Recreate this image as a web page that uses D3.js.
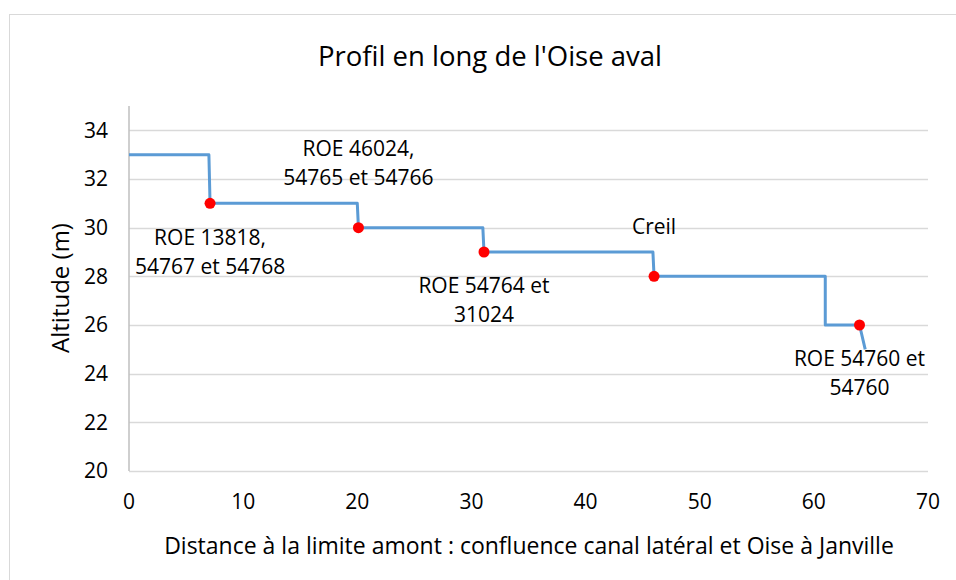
<!DOCTYPE html>
<html>
<head>
<meta charset="utf-8">
<script src="https://cdn.jsdelivr.net/npm/d3@7"></script>
<style>
  body { margin: 0; background: #fff; }
  svg { display: block; font-family: "Open Sans", sans-serif; }
</style>
</head>
<body>
<svg id="svg" width="956" height="580"></svg>
<script>
// profile of the river (distance km, altitude m)
let profileDist = [0, 7, 7.1, 20, 20.1, 31, 31.1, 45.9, 46, 61, 61, 64, 64.5];
let profileAlt  = [33, 33, 31, 31, 30, 30, 29, 29, 28, 28, 26, 26, 25];

// dams / weirs
let damDist = [7.1, 20.1, 31.1, 46, 64];
let damAlt  = [31, 30, 29, 28, 26];
let damLabels = [
    ["ROE 13818,", "54767 et 54768"],
    ["ROE 46024,", "54765 et 54766"],
    ["ROE 54764 et", "31024"],
    ["Creil"],
    ["ROE 54760 et", "54760"]
];
// label below (1) or above (-1) the point
let damLabelSide = [1, -1, 1, -1, 1];

let xTicks = [0, 10, 20, 30, 40, 50, 60, 70];
let yTicks = [20, 22, 24, 26, 28, 30, 32, 34];

let svg = d3.select("#svg");

// outer frame
svg.append("rect")
    .attr("x", 9.5).attr("y", 14.5)
    .attr("width", 1000).attr("height", 1000)
    .attr("fill", "none")
    .attr("stroke", "#d9d9d9");

const plotLeft = 129, plotRight = 928, plotTop = 106, plotBottom = 471;

let xScale = d3.scaleLinear().domain([0, 70]).range([plotLeft, plotRight]);
let yScale = d3.scaleLinear().domain([20, 35]).range([plotBottom, plotTop]);

// gridlines
svg.append("g")
    .selectAll("line")
    .data(yTicks)
    .join("line")
    .attr("x1", plotLeft).attr("x2", plotRight)
    .attr("y1", d => Math.round(yScale(d)) + 0.5)
    .attr("y2", d => Math.round(yScale(d)) + 0.5)
    .attr("stroke", "#d9d9d9")
    .attr("stroke-width", 1.5);

// y axis line
svg.append("line")
    .attr("x1", plotLeft).attr("x2", plotLeft)
    .attr("y1", plotTop).attr("y2", plotBottom)
    .attr("stroke", "#bfbfbf")
    .attr("stroke-width", 1.5);

// tick labels
svg.append("g")
    .selectAll("text")
    .data(yTicks)
    .join("text")
    .attr("x", 108)
    .attr("y", d => yScale(d))
    .attr("dy", "0.35em")
    .attr("text-anchor", "end")
    .style("font-size", "21px")
    .style("fill", "#000")
    .text(d => d);

svg.append("g")
    .selectAll("text")
    .data(xTicks)
    .join("text")
    .attr("x", d => xScale(d))
    .attr("y", 502)
    .attr("dy", "0.35em")
    .attr("text-anchor", "middle")
    .style("font-size", "21px")
    .style("fill", "#000")
    .text(d => d);

// profile line
let profile = profileDist.map((d, i) => [d, profileAlt[i]]);
svg.append("path")
    .datum(profile)
    .attr("fill", "none")
    .attr("stroke", "#5b9bd5")
    .attr("stroke-width", 3)
    .attr("stroke-linejoin", "round")
    .attr("d", d3.line().x(d => xScale(d[0])).y(d => yScale(d[1])));

// dam points
svg.append("g")
    .selectAll("circle")
    .data(damDist)
    .join("circle")
    .attr("cx", d => xScale(d))
    .attr("cy", (d, i) => yScale(damAlt[i]))
    .attr("r", 5.5)
    .attr("fill", "#ff0000");

// dam labels
const lineGap = 29;
damDist.forEach((d, i) => {
    let lines = damLabels[i];
    let cx = xScale(d);
    let cy = yScale(damAlt[i]);
    let startY = damLabelSide[i] > 0 ? cy + 34 : cy - 50 - lineGap * (lines.length - 1);
    let t = svg.append("text")
        .attr("text-anchor", "middle")
        .style("font-size", "21px")
        .style("fill", "#000");
    lines.forEach((l, j) => {
        t.append("tspan")
            .attr("x", cx)
            .attr("y", startY + j * lineGap)
            .attr("dy", "0.35em")
            .text(l);
    });
});

// titles
svg.append("text")
    .attr("x", 490).attr("y", 56)
    .attr("dy", "0.35em")
    .attr("text-anchor", "middle")
    .style("font-size", "27.5px")
    .style("fill", "#000")
    .text("Profil en long de l'Oise aval");

svg.append("text")
    .attr("x", 529).attr("y", 546)
    .attr("dy", "0.35em")
    .attr("text-anchor", "middle")
    .style("font-size", "23px")
    .style("fill", "#000")
    .text("Distance à la limite amont : confluence canal latéral et Oise à Janville");

svg.append("text")
    .attr("transform", "translate(61,288) rotate(-90)")
    .attr("dy", "0.35em")
    .attr("text-anchor", "middle")
    .style("font-size", "24px")
    .style("fill", "#000")
    .text("Altitude (m)");
</script>
</body>
</html>
